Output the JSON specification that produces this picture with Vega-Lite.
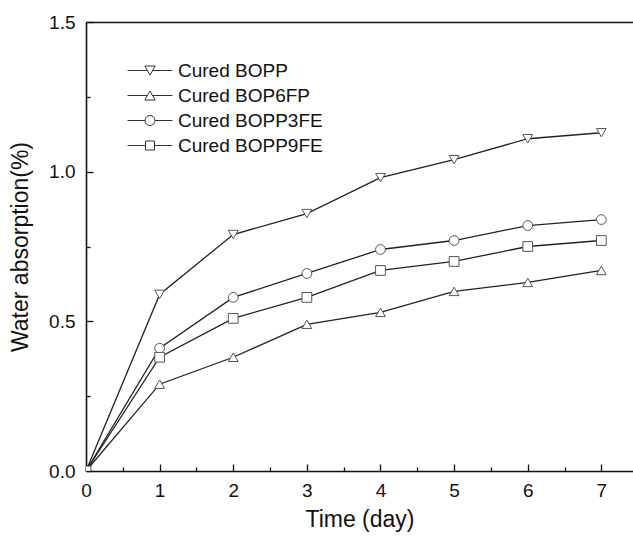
{
  "$schema": "https://vega.github.io/schema/vega-lite/v6.json",
  "width": 547,
  "height": 449,
  "autosize": "none",
  "padding": {"left": 86, "top": 22, "right": 0, "bottom": 66},
  "config": {
    "view": {"stroke": null},
    "font": "Liberation Sans",
    "axis": {
      "grid": false,
      "domainColor": "#111",
      "domainWidth": 1.6,
      "tickColor": "#111",
      "tickWidth": 1.3,
      "labelFont": "Liberation Sans",
      "labelFontSize": 19,
      "labelColor": "#111",
      "titleFont": "Liberation Sans",
      "titleFontSize": 23,
      "titleFontWeight": "normal",
      "titleColor": "#111"
    }
  },
  "data": {
    "values": [
      {"series": "Cured BOPP", "day": 0, "value": 0},
      {"series": "Cured BOPP", "day": 1, "value": 0.59},
      {"series": "Cured BOPP", "day": 2, "value": 0.79},
      {"series": "Cured BOPP", "day": 3, "value": 0.86},
      {"series": "Cured BOPP", "day": 4, "value": 0.98},
      {"series": "Cured BOPP", "day": 5, "value": 1.04},
      {"series": "Cured BOPP", "day": 6, "value": 1.11},
      {"series": "Cured BOPP", "day": 7, "value": 1.13},
      {"series": "Cured BOP6FP", "day": 0, "value": 0},
      {"series": "Cured BOP6FP", "day": 1, "value": 0.29},
      {"series": "Cured BOP6FP", "day": 2, "value": 0.38},
      {"series": "Cured BOP6FP", "day": 3, "value": 0.49},
      {"series": "Cured BOP6FP", "day": 4, "value": 0.53},
      {"series": "Cured BOP6FP", "day": 5, "value": 0.60},
      {"series": "Cured BOP6FP", "day": 6, "value": 0.63},
      {"series": "Cured BOP6FP", "day": 7, "value": 0.67},
      {"series": "Cured BOPP3FE", "day": 0, "value": 0},
      {"series": "Cured BOPP3FE", "day": 1, "value": 0.41},
      {"series": "Cured BOPP3FE", "day": 2, "value": 0.58},
      {"series": "Cured BOPP3FE", "day": 3, "value": 0.66},
      {"series": "Cured BOPP3FE", "day": 4, "value": 0.74},
      {"series": "Cured BOPP3FE", "day": 5, "value": 0.77},
      {"series": "Cured BOPP3FE", "day": 6, "value": 0.82},
      {"series": "Cured BOPP3FE", "day": 7, "value": 0.84},
      {"series": "Cured BOPP9FE", "day": 0, "value": 0},
      {"series": "Cured BOPP9FE", "day": 1, "value": 0.38},
      {"series": "Cured BOPP9FE", "day": 2, "value": 0.51},
      {"series": "Cured BOPP9FE", "day": 3, "value": 0.58},
      {"series": "Cured BOPP9FE", "day": 4, "value": 0.67},
      {"series": "Cured BOPP9FE", "day": 5, "value": 0.70},
      {"series": "Cured BOPP9FE", "day": 6, "value": 0.75},
      {"series": "Cured BOPP9FE", "day": 7, "value": 0.77}
    ]
  },
  "layer": [
    {
      "mark": {"type": "line", "color": "#222", "strokeWidth": 1.3},
      "encoding": {
        "x": {
          "field": "day", "type": "quantitative",
          "scale": {"domain": [0, 7.43], "nice": false, "zero": false},
          "axis": {
            "orient": "bottom",
            "title": "Time (day)",
            "values": [0, 0.5, 1, 1.5, 2, 2.5, 3, 3.5, 4, 4.5, 5, 5.5, 6, 6.5, 7],
            "labelExpr": "datum.value % 1 === 0 ? format(datum.value, 'd') : ''",
            "labelFlush": false,
            "labelOverlap": false,
            "tickSize": {"condition": {"test": "datum.value % 1 === 0", "value": -7}, "value": -4},
            "labelPadding": 17,
            "titlePadding": 5
          }
        },
        "y": {
          "field": "value", "type": "quantitative",
          "scale": {"domain": [0, 1.5], "nice": false},
          "axis": {
            "title": "Water absorption(%)",
            "values": [0, 0.25, 0.5, 0.75, 1, 1.25, 1.5],
            "labelExpr": "datum.value % 0.5 === 0 ? format(datum.value, '.1f') : ''",
            "labelFlush": false,
            "labelOverlap": false,
            "tickSize": {"condition": {"test": "datum.value % 0.5 === 0", "value": -7}, "value": -4},
            "labelPadding": 18,
            "titlePadding": 16
          }
        },
        "detail": {"field": "series", "type": "nominal"}
      }
    },
    {
      "mark": {"type": "point", "filled": false, "fill": "white", "fillOpacity": 1, "stroke": "#555", "strokeWidth": 1, "size": 95, "opacity": 1, "clip": true},
      "encoding": {
        "x": {
          "field": "day", "type": "quantitative",
          "scale": {"domain": [0, 7.43], "nice": false, "zero": false},
          "axis": {"orient": "top", "title": null, "ticks": false, "labels": false, "domain": true}
        },
        "y": {"field": "value", "type": "quantitative"},
        "shape": {
          "field": "series", "type": "nominal",
          "scale": {
            "domain": ["Cured BOPP", "Cured BOP6FP", "Cured BOPP3FE", "Cured BOPP9FE"],
            "range": ["triangle-down", "triangle-up", "circle", "square"]
          },
          "legend": null
        }
      }
    },
    {
      "transform": [{"filter": "datum.day < 0"}],
      "mark": {"type": "point", "filled": false, "stroke": "#333", "strokeWidth": 1, "opacity": 1},
      "encoding": {
        "x": {"field": "day", "type": "quantitative", "axis": null},
        "y": {"field": "value", "type": "quantitative"},
        "shape": {
          "field": "series", "type": "nominal",
          "scale": {
            "domain": ["Cured BOPP", "Cured BOP6FP", "Cured BOPP3FE", "Cured BOPP9FE"],
            "range": [
              "M-1,0H0.99M1.51,0H3.5M0.73,-0.45L1.77,-0.45L1.25,0.45Z",
              "M-1,0H0.99M1.51,0H3.5M1.25,-0.45L1.77,0.45L0.73,0.45Z",
              "M-1,0H0.75M1.75,0H3.5M0.75,0A0.5,0.5,0,1,0,1.75,0A0.5,0.5,0,1,0,0.75,0Z",
              "M-1,0H0.8M1.7,0H3.5M0.8,-0.45H1.7V0.45H0.8Z"
            ]
          },
          "legend": {
            "orient": "none",
            "legendX": 41,
            "legendY": 38,
            "title": null,
            "padding": 0,
            "labelFont": "Liberation Sans",
            "labelFontSize": 19,
            "labelColor": "#111",
            "symbolSize": 400,
            "labelOffset": 30,
            "rowPadding": 4,
            "symbolFillColor": "white",
            "symbolStrokeColor": "#333",
            "symbolStrokeWidth": 1,
            "symbolOpacity": 1
          }
        }
      }
    }
  ],
  "resolve": {"axis": {"x": "independent"}, "scale": {"shape": "independent"}}
}
